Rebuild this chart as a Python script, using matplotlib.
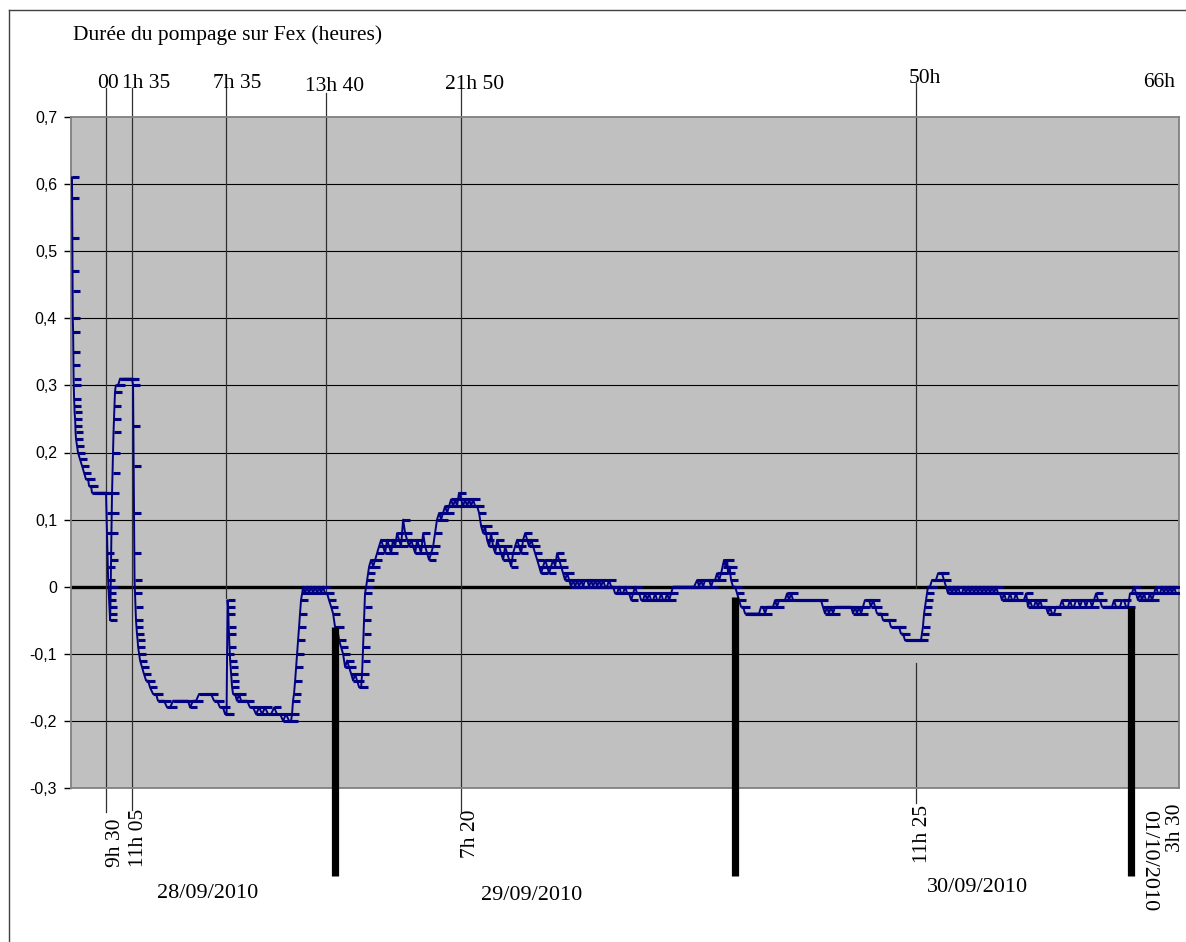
import numpy as np
import matplotlib
matplotlib.use("Agg")
import matplotlib.pyplot as plt
from matplotlib.path import Path
from matplotlib.lines import Line2D

# ---------------- data : hours elapsed since 28/09/2010 9h30, pumping gap (h) -------------
t28 = [-2.03, -2.02, -2.01, -2.00, -1.99, -1.98, -1.96, -1.95, -1.94, -1.93,
       -1.92, -1.90, -1.88, -1.87, -1.84, -1.82, -1.81, -1.78, -1.72, -1.66,
       -1.54, -1.41, -1.29, -1.17, -1.04, -0.98, -0.86, -0.80, -0.68, -0.55,
       -0.43, -0.31, -0.18, -0.06, 0.06, 0.09, 0.12, 0.15, 0.17, 0.19,
       0.21, 0.23, 0.25, 0.27, 0.29, 0.31, 0.33, 0.35, 0.37, 0.39,
       0.41, 0.43, 0.46, 0.49, 0.52, 0.55, 0.58, 0.61, 0.66, 0.80,
       0.92, 1.04, 1.17, 1.29, 1.41, 1.54, 1.66, 1.72, 1.74, 1.76,
       1.78, 1.80, 1.81, 1.84, 1.87, 1.90, 1.93, 1.96, 2.00, 2.03,
       2.09, 2.15, 2.27, 2.39, 2.52, 2.64, 2.76, 2.95, 3.13, 3.25,
       3.44, 3.62, 3.81, 3.99, 4.18, 4.36, 4.54, 4.73, 4.91, 5.09,
       5.22, 5.40, 5.59, 5.77, 5.96, 6.14, 6.32, 6.51, 6.69, 6.88,
       7.06, 7.24, 7.37, 7.46, 7.49, 7.52, 7.55, 7.57, 7.59, 7.61,
       7.64, 7.68, 7.71, 7.74, 7.77, 7.80, 7.86, 7.98, 8.10, 8.23,
       8.35, 8.54, 8.72, 8.90, 9.09, 9.27, 9.46, 9.64, 9.82, 10.01,
       10.19, 10.38, 10.56, 10.75, 10.93, 11.11, 11.30, 11.42, 11.48, 11.54,
       11.60, 11.67, 11.73, 11.79, 11.85, 11.91, 11.97, 12.03, 12.10, 12.16,
       12.28, 12.40, 12.52, 12.65, 12.77, 12.89, 13.02, 13.14, 13.26, 13.38,
       13.51, 13.63, 13.75, 13.88, 14.00]
v28 = [0.61, 0.58, 0.52, 0.47, 0.44, 0.40, 0.38, 0.35, 0.33, 0.31,
       0.30, 0.28, 0.27, 0.26, 0.25, 0.24, 0.23, 0.22, 0.21, 0.20,
       0.19, 0.18, 0.17, 0.16, 0.16, 0.15, 0.15, 0.14, 0.14, 0.14,
       0.14, 0.14, 0.14, 0.14, 0.14, 0.11, 0.08, 0.05, 0.03, 0.01,
       0.00, -0.01, -0.02, -0.03, -0.04, -0.05, -0.03, 0.00, 0.04, 0.08,
       0.11, 0.14, 0.17, 0.20, 0.23, 0.25, 0.27, 0.29, 0.30, 0.30,
       0.31, 0.31, 0.31, 0.31, 0.31, 0.31, 0.31, 0.30, 0.24, 0.18,
       0.11, 0.05, 0.01, -0.01, -0.03, -0.05, -0.06, -0.07, -0.08, -0.09,
       -0.10, -0.11, -0.12, -0.13, -0.14, -0.14, -0.15, -0.16, -0.16, -0.17,
       -0.17, -0.17, -0.18, -0.18, -0.17, -0.17, -0.17, -0.17, -0.17, -0.17,
       -0.18, -0.17, -0.17, -0.16, -0.16, -0.16, -0.16, -0.16, -0.17, -0.17,
       -0.18, -0.18, -0.19, -0.19, -0.10, -0.02, -0.03, -0.04, -0.06, -0.07,
       -0.09, -0.11, -0.12, -0.13, -0.14, -0.15, -0.16, -0.16, -0.17, -0.16,
       -0.17, -0.17, -0.17, -0.18, -0.18, -0.19, -0.18, -0.19, -0.18, -0.19,
       -0.19, -0.18, -0.19, -0.19, -0.20, -0.19, -0.20, -0.20, -0.19, -0.17,
       -0.16, -0.14, -0.12, -0.10, -0.08, -0.06, -0.04, -0.02, -0.01, 0.00,
       -0.01, 0.00, -0.01, 0.00, -0.01, 0.00, -0.01, 0.00, -0.01, 0.00,
       -0.01, -0.01, -0.02, -0.03, -0.04]

t29 = [14.12, 14.24, 14.37, 14.49, 14.61, 14.74, 14.86, 14.98, 15.11, 15.23,
       15.35, 15.47, 15.60, 15.72, 15.78, 15.81, 15.84, 15.87, 15.90, 15.93,
       15.96, 16.03, 16.09, 16.15, 16.21, 16.33, 16.46, 16.58, 16.70, 16.82,
       16.95, 17.07, 17.19, 17.32, 17.44, 17.56, 17.68, 17.81, 17.93, 18.05,
       18.17, 18.30, 18.42, 18.54, 18.67, 18.79, 18.91, 19.04, 19.16, 19.28,
       19.40, 19.53, 19.65, 19.77, 19.89, 20.02, 20.14, 20.26, 20.38, 20.51,
       20.63, 20.75, 20.88, 21.00, 21.12, 21.24, 21.37, 21.49, 21.61, 21.73,
       21.86, 21.98, 22.10, 22.23, 22.35, 22.47, 22.59, 22.72, 22.84, 22.96,
       23.09, 23.21, 23.33, 23.45, 23.58, 23.70, 23.82, 23.95, 24.07, 24.19,
       24.31, 24.44, 24.56, 24.68, 24.81, 24.93, 25.05, 25.17, 25.30, 25.42,
       25.54, 25.67, 25.79, 25.91, 26.03, 26.16, 26.28, 26.40, 26.53, 26.65,
       26.77, 26.89, 27.02, 27.14, 27.26, 27.38, 27.51, 27.63, 27.75, 27.88,
       28.00, 28.12, 28.24, 28.37, 28.49, 28.61, 28.73, 28.86, 28.98, 29.10,
       29.23, 29.35, 29.47, 29.59, 29.72, 29.84, 29.96, 30.09, 30.21, 30.33,
       30.45, 30.58, 30.70, 30.82, 30.94, 31.07, 31.19, 31.31, 31.44, 31.56,
       31.68, 31.80, 31.93, 32.05, 32.17, 32.30, 32.42, 32.54, 32.66, 32.79,
       32.91, 33.03, 33.15, 33.28, 33.40, 33.52, 33.65, 33.77, 33.89, 34.01,
       34.14, 34.26, 34.38, 34.51, 34.63, 34.75, 34.87, 35.06, 35.24, 35.43,
       35.61, 35.79, 35.98, 36.16, 36.35, 36.47, 36.59, 36.71, 36.84, 36.96,
       37.08, 37.21, 37.33, 37.45, 37.57, 37.70, 37.82, 37.91, 38.00, 38.09,
       38.19, 38.25, 38.34, 38.43, 38.55, 38.68]
v29 = [-0.06, -0.06, -0.08, -0.09, -0.10, -0.12, -0.11, -0.12, -0.13, -0.14,
       -0.13, -0.14, -0.15, -0.15, -0.13, -0.11, -0.09, -0.07, -0.05, -0.03,
       -0.01, 0.00, 0.01, 0.02, 0.03, 0.04, 0.03, 0.04, 0.05, 0.06,
       0.07, 0.06, 0.05, 0.07, 0.06, 0.05, 0.07, 0.06, 0.08, 0.07,
       0.06, 0.10, 0.08, 0.07, 0.06, 0.07, 0.06, 0.05, 0.07, 0.06,
       0.05, 0.08, 0.06, 0.05, 0.04, 0.05, 0.06, 0.08, 0.10, 0.11,
       0.10, 0.11, 0.12, 0.11, 0.12, 0.13, 0.12, 0.13, 0.12, 0.14,
       0.13, 0.12, 0.13, 0.12, 0.13, 0.12, 0.13, 0.12, 0.12, 0.11,
       0.09, 0.08, 0.09, 0.07, 0.06, 0.08, 0.06, 0.05, 0.07, 0.06,
       0.05, 0.04, 0.06, 0.05, 0.04, 0.03, 0.05, 0.06, 0.07, 0.06,
       0.05, 0.07, 0.08, 0.07, 0.06, 0.07, 0.06, 0.05, 0.04, 0.03,
       0.02, 0.03, 0.04, 0.03, 0.02, 0.03, 0.04, 0.03, 0.05, 0.04,
       0.03, 0.02, 0.01, 0.02, 0.01, 0.00, 0.01, 0.00, 0.01, 0.00,
       0.01, 0.00, 0.01, 0.01, 0.00, 0.01, 0.00, 0.01, 0.00, 0.01,
       0.00, 0.01, 0.00, 0.00, 0.01, 0.00, 0.00, -0.01, -0.01, 0.00,
       -0.01, -0.01, 0.00, -0.01, -0.01, -0.02, -0.01, 0.00, -0.01, -0.01,
       -0.02, -0.02, -0.01, -0.02, -0.01, -0.02, -0.02, -0.01, -0.02, -0.02,
       -0.01, -0.02, -0.02, -0.01, -0.02, -0.01, 0.00, 0.00, 0.00, 0.00,
       0.00, 0.00, 0.00, 0.00, 0.01, 0.00, 0.01, 0.00, 0.01, 0.01,
       0.01, 0.00, 0.01, 0.01, 0.02, 0.01, 0.02, 0.03, 0.04, 0.03,
       0.04, 0.02, 0.03, 0.01, 0.00, 0.00]

t30 = [38.80, 38.92, 39.04, 39.17, 39.29, 39.41, 39.53, 39.66, 39.78, 39.90,
       40.03, 40.15, 40.27, 40.39, 40.52, 40.64, 40.76, 40.88, 41.01, 41.13,
       41.25, 41.38, 41.50, 41.62, 41.74, 41.87, 41.99, 42.11, 42.24, 42.36,
       42.48, 42.60, 42.73, 42.85, 42.97, 43.09, 43.22, 43.34, 43.46, 43.58,
       43.71, 43.83, 43.95, 44.07, 44.20, 44.32, 44.44, 44.57, 44.69, 44.81,
       44.94, 45.06, 45.18, 45.30, 45.43, 45.55, 45.67, 45.80, 45.92, 46.04,
       46.16, 46.29, 46.41, 46.53, 46.65, 46.78, 46.90, 47.02, 47.15, 47.27,
       47.39, 47.51, 47.64, 47.76, 47.88, 48.01, 48.13, 48.25, 48.37, 48.50,
       48.62, 48.74, 48.86, 48.99, 49.11, 49.23, 49.36, 49.48, 49.60, 49.72,
       49.85, 49.97, 50.09, 50.15, 50.21, 50.28, 50.34, 50.40, 50.46, 50.52,
       50.64, 50.77, 50.89, 51.01, 51.14, 51.26, 51.38, 51.50, 51.63, 51.75,
       51.87, 51.99, 52.12, 52.24, 52.36, 52.49, 52.61, 52.73, 52.85, 52.98,
       53.10, 53.22, 53.35, 53.47, 53.59, 53.71, 53.84, 53.96, 54.08, 54.21,
       54.33, 54.45, 54.57, 54.70, 54.82, 54.94, 55.06, 55.19, 55.31, 55.43,
       55.56, 55.68, 55.80, 55.92, 56.05, 56.17, 56.29, 56.41, 56.54, 56.66,
       56.78, 56.91, 57.03, 57.15, 57.27, 57.40, 57.52, 57.64, 57.76, 57.89,
       58.01, 58.13, 58.26, 58.38, 58.50, 58.62, 58.75, 58.87, 58.99, 59.12,
       59.24, 59.36, 59.48, 59.61, 59.73, 59.85, 59.98, 60.10, 60.22, 60.34,
       60.47, 60.59, 60.71, 60.84, 60.96, 61.08, 61.20, 61.33, 61.45, 61.57,
       61.69, 61.82, 61.94, 62.06, 62.19, 62.31, 62.43, 62.55, 62.68, 62.80,
       62.92]
v30 = [-0.01, -0.02, -0.03, -0.03, -0.04, -0.04, -0.04, -0.04, -0.04, -0.04,
       -0.04, -0.04, -0.03, -0.03, -0.04, -0.03, -0.03, -0.03, -0.03, -0.02,
       -0.03, -0.02, -0.02, -0.02, -0.02, -0.01, -0.02, -0.01, -0.02, -0.02,
       -0.02, -0.02, -0.02, -0.02, -0.02, -0.02, -0.02, -0.02, -0.02, -0.02,
       -0.02, -0.02, -0.02, -0.03, -0.04, -0.03, -0.04, -0.03, -0.04, -0.03,
       -0.03, -0.03, -0.03, -0.03, -0.03, -0.03, -0.03, -0.03, -0.04, -0.03,
       -0.04, -0.03, -0.04, -0.03, -0.02, -0.02, -0.02, -0.03, -0.02, -0.03,
       -0.04, -0.04, -0.04, -0.05, -0.05, -0.05, -0.05, -0.06, -0.06, -0.06,
       -0.06, -0.06, -0.07, -0.07, -0.08, -0.08, -0.08, -0.08, -0.08, -0.08,
       -0.08, -0.08, -0.08, -0.07, -0.06, -0.04, -0.03, -0.02, -0.01, 0.00,
       0.00, 0.01, 0.01, 0.01, 0.02, 0.02, 0.02, 0.01, 0.00, -0.01,
       0.00, -0.01, 0.00, -0.01, 0.00, -0.01, -0.01, 0.00, -0.01, 0.00,
       -0.01, 0.00, -0.01, 0.00, -0.01, 0.00, -0.01, 0.00, -0.01, 0.00,
       -0.01, 0.00, -0.01, 0.00, -0.01, -0.01, -0.02, -0.01, -0.02, -0.02,
       -0.01, -0.02, -0.02, -0.01, -0.02, -0.02, -0.02, -0.02, -0.01, -0.03,
       -0.02, -0.03, -0.03, -0.02, -0.03, -0.02, -0.03, -0.03, -0.03, -0.04,
       -0.03, -0.04, -0.04, -0.03, -0.03, -0.03, -0.02, -0.03, -0.03, -0.03,
       -0.02, -0.03, -0.03, -0.02, -0.02, -0.03, -0.02, -0.02, -0.03, -0.02,
       -0.02, -0.03, -0.02, -0.01, -0.02, -0.02, -0.03, -0.03, -0.03, -0.03,
       -0.03, -0.03, -0.02, -0.03, -0.03, -0.03, -0.02, -0.02, -0.03, -0.03,
       -0.01]

t01 = [63.04, 63.17, 63.29, 63.41, 63.54, 63.66, 63.78, 63.90, 64.03, 64.15,
       64.27, 64.40, 64.52, 64.64, 64.76, 64.89, 65.01, 65.13, 65.26, 65.38,
       65.50, 65.62, 65.75, 65.87]
v01 = [-0.01, 0.00, -0.01, -0.02, -0.01, -0.02, -0.01, -0.02, -0.02, -0.01,
       -0.02, -0.01, 0.00, -0.01, -0.01, 0.00, -0.01, 0.00, -0.01, 0.00,
       -0.01, 0.00, -0.01, -0.01]

y_ticks = [-0.3, -0.2, -0.1, 0.0, 0.1, 0.2, 0.3, 0.4, 0.5, 0.6, 0.7]
y_labels = ["-0,3", "-0,2", "-0,1", "0", "0,1", "0,2", "0,3", "0,4", "0,5", "0,6", "0,7"]

title = "Durée du pompage sur Fex (heures)"
# elapsed-time labels above the plot
top_labels = ["00", "1h 35", "7h 35", "13h 40", "21h 50", "50h", "66h"]
# clock-time labels below the plot
bottom_labels = ["9h 30", "11h 05", "7h 20", "11h 25", "3h 30"]
dates = ["28/09/2010", "29/09/2010", "30/09/2010", "01/10/2010"]

for a, b in [(t28, v28), (t29, v29), (t30, v30), (t01, v01)]:
    assert len(a) == len(b), (len(a), len(b))

hours = np.concatenate([t28, t29, t30, t01])
gap = np.concatenate([v28, v29, v30, v01])

# ---------------- figure ----------------
W, H = 1186, 942
fig = plt.figure(figsize=(W / 100, H / 100), dpi=100)
fig.patch.set_facecolor("white")


def fx(px):
    return px / W


def fy(py):
    return 1 - py / H


ax = fig.add_axes([fx(71), fy(788), fx(1179) - fx(71), fy(117) - fy(788)])
ax.set_facecolor("#C0C0C0")
ax.set_xlim(-2.09, 65.93)
ax.set_ylim(-0.3, 0.7)
ax.set_xticks([])
ax.set_yticks(y_ticks)
ax.set_yticklabels(y_labels, fontfamily="Liberation Sans", fontsize=11.5)
ax.tick_params(axis="y", direction="out", length=5, width=1, color="black", pad=5)
for sp in ax.spines.values():
    sp.set_color("#808080")
    sp.set_linewidth(1.3)

for v in y_ticks[1:-1]:
    ax.axhline(v, color="black", lw=0.8, zorder=1)
ax.axhline(0, color="black", lw=2.4, zorder=2)

# thin annotation lines (hours, top value, bottom value)
ann_lines = [(0.04, 0.743, -0.336), (1.64, 0.743, -0.333), (7.41, 0.743, -0.017),
             (13.54, 0.736, -0.009), (21.84, 0.743, -0.336), (49.78, 0.751, -0.002),
             (49.78, -0.114, -0.322)]
for x, y0, y1 in ann_lines:
    ax.plot([x, x], [y0, y1], color="#303030", lw=0.9, clip_on=False, zorder=2.5)

# data series with dash markers
dash = Path([(0, 0), (1, 0)], [Path.MOVETO, Path.LINETO])
ax.plot(hours, gap, color="#000080", lw=1.4, marker=dash, ms=9.5, mew=2.2,
        mec="#000080", mfc="none", zorder=3)

# thick day separators
day_bars = [(14.09, -0.06), (38.70, -0.015), (62.99, -0.03)]
for x, top in day_bars:
    ax.plot([x, x], [top, -0.431], color="black", lw=5.2, solid_capstyle="butt",
            clip_on=False, zorder=5)

serif = "Liberation Serif"
fig.text(fx(73), fy(40), title, ha="left", va="baseline", fontsize=15.5, family=serif)

top_pos = [(97, 88), (122, 88), (213, 88), (305, 91), (445, 89), (909, 83), (1143, 87)]
for s, (px, py) in zip(top_labels, top_pos):
    fig.text(fx(px), fy(py), s, ha="left", va="baseline", fontsize=15.5, family=serif)

bot_pos = [(115, 867), (138.5, 867), (471, 858), (922.5, 863), (1176, 852)]
for s, (px, py) in zip(bottom_labels, bot_pos):
    fig.text(fx(px), fy(py), s, ha="center", va="bottom", rotation=90,
             fontsize=15.5, family=serif)

date_pos = [(157, 898), (481, 900), (927, 892)]
for s, (px, py) in zip(dates[:3], date_pos):
    fig.text(fx(px), fy(py), s, ha="left", va="baseline", fontsize=16, family=serif)
fig.text(fx(1148.5), fy(810), dates[3], ha="center", va="top", rotation=270,
         fontsize=16, family=serif)

# outer chart frame (left and top edges visible)
fig.add_artist(Line2D([fx(9), fx(9)], [fy(10), fy(942)], color="#404040", lw=1))
fig.add_artist(Line2D([fx(9), fx(1186)], [fy(10), fy(10)], color="#404040", lw=1))

fig.savefig("out.png", dpi=100)
